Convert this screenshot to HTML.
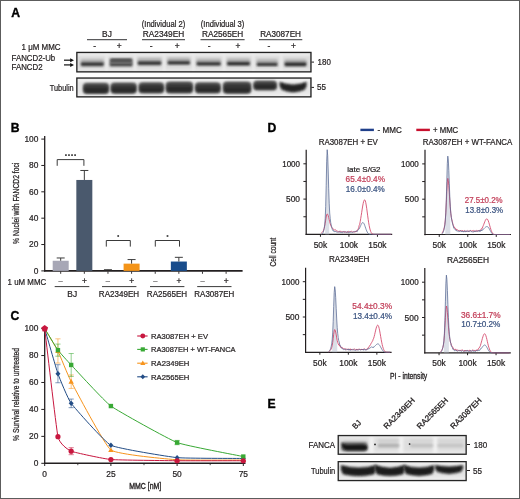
<!DOCTYPE html>
<html><head><meta charset="utf-8"><style>
html,body{margin:0;padding:0;background:#fff;width:520px;height:499px;overflow:hidden;}
svg{display:block;will-change:transform;}
text{font-family:"Liberation Sans",sans-serif;}
</style></head><body>
<svg width="520" height="499" viewBox="0 0 520 499">
<defs><linearGradient id="tubg" x1="0" y1="0" x2="0" y2="1"><stop offset="0" stop-color="#454545"/><stop offset="0.55" stop-color="#2c2c2c"/><stop offset="1" stop-color="#262626"/></linearGradient><filter id="b0_8" x="-50%" y="-50%" width="200%" height="200%"><feGaussianBlur stdDeviation="0.8"/></filter><filter id="b0_9" x="-50%" y="-50%" width="200%" height="200%"><feGaussianBlur stdDeviation="0.9"/></filter><filter id="b1_0" x="-50%" y="-50%" width="200%" height="200%"><feGaussianBlur stdDeviation="1.0"/></filter><filter id="b1_2" x="-50%" y="-50%" width="200%" height="200%"><feGaussianBlur stdDeviation="1.2"/></filter><filter id="b1_3" x="-50%" y="-50%" width="200%" height="200%"><feGaussianBlur stdDeviation="1.3"/></filter><filter id="b1_4" x="-50%" y="-50%" width="200%" height="200%"><feGaussianBlur stdDeviation="1.4"/></filter></defs>
<rect x="0.5" y="0.5" width="519" height="498" fill="#fff" stroke="#5c5c5c" stroke-width="1"/>
<text x="11.20" y="17.00" font-size="12.20" text-anchor="start" fill="#000" font-weight="bold" stroke="#000" stroke-width="0.35" >A</text>
<text x="10.70" y="131.90" font-size="12.20" text-anchor="start" fill="#000" font-weight="bold" stroke="#000" stroke-width="0.35" >B</text>
<text x="10.50" y="320.30" font-size="12.20" text-anchor="start" fill="#000" font-weight="bold" stroke="#000" stroke-width="0.35" >C</text>
<text x="267.60" y="131.80" font-size="12.20" text-anchor="start" fill="#000" font-weight="bold" stroke="#000" stroke-width="0.35" >D</text>
<text x="267.50" y="407.70" font-size="12.20" text-anchor="start" fill="#000" font-weight="bold" stroke="#000" stroke-width="0.35" >E</text>
<text x="107.00" y="36.60" font-size="8.40" text-anchor="middle" fill="#231f20" font-weight="normal" stroke="#231f20" stroke-width="0.22" >BJ</text>
<text x="163.50" y="26.80" font-size="8.40" text-anchor="middle" fill="#231f20" font-weight="normal" textLength="43.5" lengthAdjust="spacingAndGlyphs" stroke="#231f20" stroke-width="0.22" >(Individual 2)</text>
<text x="163.50" y="36.60" font-size="8.40" text-anchor="middle" fill="#231f20" font-weight="normal" textLength="41.5" lengthAdjust="spacingAndGlyphs" stroke="#231f20" stroke-width="0.22" >RA2349EH</text>
<text x="222.60" y="26.80" font-size="8.40" text-anchor="middle" fill="#231f20" font-weight="normal" textLength="43.5" lengthAdjust="spacingAndGlyphs" stroke="#231f20" stroke-width="0.22" >(Individual 3)</text>
<text x="222.60" y="36.60" font-size="8.40" text-anchor="middle" fill="#231f20" font-weight="normal" textLength="41.2" lengthAdjust="spacingAndGlyphs" stroke="#231f20" stroke-width="0.22" >RA2565EH</text>
<text x="280.60" y="36.60" font-size="8.40" text-anchor="middle" fill="#231f20" font-weight="normal" textLength="40.8" lengthAdjust="spacingAndGlyphs" stroke="#231f20" stroke-width="0.22" >RA3087EH</text>
<line x1="87.00" y1="39.60" x2="127.00" y2="39.60" stroke="#5a5a5c" stroke-width="1.30" />
<line x1="142.00" y1="39.60" x2="185.00" y2="39.60" stroke="#5a5a5c" stroke-width="1.30" />
<line x1="200.50" y1="39.60" x2="244.60" y2="39.60" stroke="#5a5a5c" stroke-width="1.30" />
<line x1="259.00" y1="39.60" x2="302.30" y2="39.60" stroke="#5a5a5c" stroke-width="1.30" />
<text x="94.60" y="49.00" font-size="8.50" text-anchor="middle" fill="#231f20" font-weight="normal" stroke="#231f20" stroke-width="0.22" >-</text>
<text x="151.20" y="49.00" font-size="8.50" text-anchor="middle" fill="#231f20" font-weight="normal" stroke="#231f20" stroke-width="0.22" >-</text>
<text x="209.20" y="49.00" font-size="8.50" text-anchor="middle" fill="#231f20" font-weight="normal" stroke="#231f20" stroke-width="0.22" >-</text>
<text x="268.80" y="49.00" font-size="8.50" text-anchor="middle" fill="#231f20" font-weight="normal" stroke="#231f20" stroke-width="0.22" >-</text>
<text x="119.20" y="49.00" font-size="8.40" text-anchor="middle" fill="#231f20" font-weight="normal" stroke="#231f20" stroke-width="0.22" >+</text>
<text x="177.20" y="49.00" font-size="8.40" text-anchor="middle" fill="#231f20" font-weight="normal" stroke="#231f20" stroke-width="0.22" >+</text>
<text x="238.00" y="49.00" font-size="8.40" text-anchor="middle" fill="#231f20" font-weight="normal" stroke="#231f20" stroke-width="0.22" >+</text>
<text x="293.40" y="49.00" font-size="8.40" text-anchor="middle" fill="#231f20" font-weight="normal" stroke="#231f20" stroke-width="0.22" >+</text>
<text x="60.60" y="49.90" font-size="8.40" text-anchor="end" fill="#231f20" font-weight="normal" textLength="39.0" lengthAdjust="spacingAndGlyphs" stroke="#231f20" stroke-width="0.22" >1 μM MMC</text>
<text x="11.60" y="60.70" font-size="8.40" text-anchor="start" fill="#231f20" font-weight="normal" textLength="43.6" lengthAdjust="spacingAndGlyphs" stroke="#231f20" stroke-width="0.22" >FANCD2-Ub</text>
<text x="11.60" y="70.10" font-size="8.40" text-anchor="start" fill="#231f20" font-weight="normal" textLength="31.0" lengthAdjust="spacingAndGlyphs" stroke="#231f20" stroke-width="0.22" >FANCD2</text>
<text x="73.60" y="90.80" font-size="8.60" text-anchor="end" fill="#231f20" font-weight="normal" textLength="23.8" lengthAdjust="spacingAndGlyphs" stroke="#231f20" stroke-width="0.22" >Tubulin</text>
<line x1="64.00" y1="60.20" x2="71.00" y2="60.20" stroke="#222" stroke-width="1.30" />
<path d="M74,60.20 L70.2,58.20 L70.2,62.20 Z" fill="#111"/>
<line x1="64.00" y1="64.90" x2="71.00" y2="64.90" stroke="#222" stroke-width="1.30" />
<path d="M74,64.90 L70.2,62.90 L70.2,66.90 Z" fill="#111"/>
<rect x="76.20" y="51.80" width="235.40" height="20.60" fill="#dcdcdc" />
<rect x="77.70" y="53.00" width="232.40" height="3.00" fill="#ececec" filter="url(#b1_0)"/>
<rect x="77.70" y="68.80" width="232.40" height="2.40" fill="#e8e8e8" filter="url(#b0_9)"/>
<rect x="105.40" y="53.00" width="2.60" height="18.00" fill="#ececec" filter="url(#b0_9)"/>
<rect x="133.70" y="53.00" width="2.60" height="18.00" fill="#ececec" filter="url(#b0_9)"/>
<rect x="162.90" y="53.00" width="2.60" height="18.00" fill="#ececec" filter="url(#b0_9)"/>
<rect x="192.10" y="53.00" width="2.60" height="18.00" fill="#ececec" filter="url(#b0_9)"/>
<rect x="222.70" y="53.00" width="2.60" height="18.00" fill="#ececec" filter="url(#b0_9)"/>
<rect x="252.10" y="53.00" width="2.60" height="18.00" fill="#ececec" filter="url(#b0_9)"/>
<rect x="279.90" y="53.00" width="2.60" height="18.00" fill="#ececec" filter="url(#b0_9)"/>
<rect x="80.60" y="59.20" width="23.40" height="7.50" rx="2" fill="#b0b0b0" filter="url(#b1_2)"/>
<rect x="81.00" y="62.58" width="22.60" height="3.24" rx="1.2" fill="#2c2c2c" filter="url(#b0_8)"/>
<rect x="109.60" y="59.60" width="23.00" height="7.50" rx="2" fill="#b0b0b0" filter="url(#b1_2)"/>
<rect x="110.00" y="63.34" width="22.20" height="2.52" rx="1.2" fill="#2c2c2c" filter="url(#b0_8)"/>
<rect x="110.00" y="59.00" width="22.20" height="5.00" rx="1.5" fill="#626262" filter="url(#b0_9)"/>
<rect x="110.00" y="58.80" width="22.20" height="2.00" rx="1.5" fill="#3a3a3a" opacity="0.85" filter="url(#b0_9)"/>
<rect x="137.50" y="58.10" width="24.00" height="7.50" rx="2" fill="#b0b0b0" filter="url(#b1_2)"/>
<rect x="137.90" y="61.57" width="23.20" height="3.06" rx="1.2" fill="#2c2c2c" filter="url(#b0_8)"/>
<rect x="167.40" y="57.80" width="22.80" height="7.50" rx="2" fill="#b0b0b0" filter="url(#b1_2)"/>
<rect x="167.80" y="61.27" width="22.00" height="3.06" rx="1.2" fill="#2c2c2c" filter="url(#b0_8)"/>
<rect x="196.30" y="58.80" width="24.70" height="7.50" rx="2" fill="#b0b0b0" filter="url(#b1_2)"/>
<rect x="196.70" y="62.36" width="23.90" height="2.88" rx="1.2" fill="#2c2c2c" filter="url(#b0_8)"/>
<rect x="226.80" y="58.60" width="23.40" height="7.50" rx="2" fill="#b0b0b0" filter="url(#b1_2)"/>
<rect x="227.20" y="61.98" width="22.60" height="3.24" rx="1.2" fill="#2c2c2c" filter="url(#b0_8)"/>
<rect x="256.50" y="59.30" width="21.30" height="7.50" rx="2" fill="#b0b0b0" filter="url(#b1_2)"/>
<rect x="256.90" y="62.95" width="20.50" height="2.70" rx="1.2" fill="#2c2c2c" filter="url(#b0_8)"/>
<rect x="284.30" y="59.30" width="22.40" height="7.50" rx="2" fill="#b0b0b0" filter="url(#b1_2)"/>
<rect x="284.70" y="62.59" width="21.60" height="3.42" rx="1.2" fill="#2c2c2c" filter="url(#b0_8)"/>
<rect x="76.85" y="52.45" width="234.10" height="19.4" fill="none" stroke="#222" stroke-width="1.3"/>
<rect x="76.20" y="77.40" width="235.40" height="20.10" fill="#e6e6e6" />
<rect x="77.70" y="78.80" width="232.40" height="3.00" fill="#f2f2f2" filter="url(#b1_0)"/>
<rect x="77.70" y="94.00" width="232.40" height="2.50" fill="#f0f0f0" filter="url(#b1_0)"/>
<rect x="82.90" y="82.80" width="26.20" height="11.20" rx="4" ry="3.5" fill="#666" filter="url(#b1_2)"/>
<rect x="83.70" y="84.30" width="24.60" height="8.60" rx="4" ry="3.5" fill="url(#tubg)" filter="url(#b1_0)"/>
<rect x="110.50" y="82.40" width="26.30" height="11.40" rx="4" ry="3.5" fill="#666" filter="url(#b1_2)"/>
<rect x="111.30" y="83.90" width="24.70" height="8.80" rx="4" ry="3.5" fill="url(#tubg)" filter="url(#b1_0)"/>
<rect x="138.50" y="82.20" width="25.70" height="11.20" rx="4" ry="3.5" fill="#666" filter="url(#b1_2)"/>
<rect x="139.30" y="83.70" width="24.10" height="8.60" rx="4" ry="3.5" fill="url(#tubg)" filter="url(#b1_0)"/>
<rect x="165.70" y="81.60" width="27.40" height="11.80" rx="4" ry="3.5" fill="#666" filter="url(#b1_2)"/>
<rect x="166.50" y="83.10" width="25.80" height="9.20" rx="4" ry="3.5" fill="url(#tubg)" filter="url(#b1_0)"/>
<rect x="194.90" y="82.20" width="25.90" height="11.20" rx="4" ry="3.5" fill="#666" filter="url(#b1_2)"/>
<rect x="195.70" y="83.70" width="24.30" height="8.60" rx="4" ry="3.5" fill="url(#tubg)" filter="url(#b1_0)"/>
<rect x="222.90" y="81.60" width="28.40" height="12.20" rx="4" ry="3.5" fill="#666" filter="url(#b1_2)"/>
<rect x="223.70" y="83.10" width="26.80" height="9.60" rx="4" ry="3.5" fill="url(#tubg)" filter="url(#b1_0)"/>
<rect x="253.20" y="80.40" width="23.80" height="10.00" rx="4" ry="3.5" fill="#666" filter="url(#b1_2)"/>
<rect x="254.00" y="81.90" width="22.20" height="7.40" rx="4" ry="3.5" fill="url(#tubg)" filter="url(#b1_0)"/>
<path d="M279.40,81.40 Q293.10,86.60 306.80,81.40 Q308.00,85.80 304.80,90.20 Q293.10,95.40 281.40,90.20 Q278.20,85.80 279.40,81.40 Z" fill="#777" filter="url(#b1_2)" opacity="0.6"/>
<path d="M280.20,82.20 Q293.10,87.80 306.00,82.20 Q307.20,85.90 304.00,89.60 Q293.10,94.40 282.20,89.60 Q279.00,85.90 280.20,82.20 Z" fill="#222" filter="url(#b0_9)" />
<rect x="76.85" y="78.05" width="234.10" height="18.8" fill="none" stroke="#1e1e1e" stroke-width="1.3"/>
<line x1="311.40" y1="62.10" x2="314.00" y2="62.10" stroke="#231f20" stroke-width="1.00" />
<line x1="311.40" y1="87.40" x2="314.00" y2="87.40" stroke="#231f20" stroke-width="1.00" />
<text x="317.60" y="64.60" font-size="8.40" text-anchor="start" fill="#231f20" font-weight="normal" textLength="13.3" lengthAdjust="spacingAndGlyphs" stroke="#231f20" stroke-width="0.22" >180</text>
<text x="317.00" y="89.80" font-size="8.40" text-anchor="start" fill="#231f20" font-weight="normal" textLength="9.0" lengthAdjust="spacingAndGlyphs" stroke="#231f20" stroke-width="0.22" >55</text>
<line x1="44.70" y1="136.00" x2="44.70" y2="271.60" stroke="#231f20" stroke-width="1.30" />
<line x1="41.30" y1="270.90" x2="44.70" y2="270.90" stroke="#231f20" stroke-width="1.00" />
<text x="38.40" y="273.70" font-size="8.40" text-anchor="end" fill="#231f20" font-weight="normal" stroke="#231f20" stroke-width="0.22" >0</text>
<line x1="41.30" y1="244.54" x2="44.70" y2="244.54" stroke="#231f20" stroke-width="1.00" />
<text x="38.40" y="247.34" font-size="8.40" text-anchor="end" fill="#231f20" font-weight="normal" stroke="#231f20" stroke-width="0.22" >20</text>
<line x1="41.30" y1="218.18" x2="44.70" y2="218.18" stroke="#231f20" stroke-width="1.00" />
<text x="38.40" y="220.98" font-size="8.40" text-anchor="end" fill="#231f20" font-weight="normal" stroke="#231f20" stroke-width="0.22" >40</text>
<line x1="41.30" y1="191.82" x2="44.70" y2="191.82" stroke="#231f20" stroke-width="1.00" />
<text x="38.40" y="194.62" font-size="8.40" text-anchor="end" fill="#231f20" font-weight="normal" stroke="#231f20" stroke-width="0.22" >60</text>
<line x1="41.30" y1="165.46" x2="44.70" y2="165.46" stroke="#231f20" stroke-width="1.00" />
<text x="38.40" y="168.26" font-size="8.40" text-anchor="end" fill="#231f20" font-weight="normal" stroke="#231f20" stroke-width="0.22" >80</text>
<line x1="41.30" y1="139.10" x2="44.70" y2="139.10" stroke="#231f20" stroke-width="1.00" />
<text x="38.40" y="141.90" font-size="8.40" text-anchor="end" fill="#231f20" font-weight="normal" stroke="#231f20" stroke-width="0.22" >100</text>
<line x1="44.10" y1="270.90" x2="242.60" y2="270.90" stroke="#231f20" stroke-width="1.60" />
<line x1="60.70" y1="271.50" x2="60.70" y2="273.80" stroke="#231f20" stroke-width="0.90" />
<line x1="84.33" y1="271.50" x2="84.33" y2="273.80" stroke="#231f20" stroke-width="0.90" />
<line x1="107.96" y1="271.50" x2="107.96" y2="273.80" stroke="#231f20" stroke-width="0.90" />
<line x1="131.59" y1="271.50" x2="131.59" y2="273.80" stroke="#231f20" stroke-width="0.90" />
<line x1="155.22" y1="271.50" x2="155.22" y2="273.80" stroke="#231f20" stroke-width="0.90" />
<line x1="178.85" y1="271.50" x2="178.85" y2="273.80" stroke="#231f20" stroke-width="0.90" />
<line x1="202.48" y1="271.50" x2="202.48" y2="273.80" stroke="#231f20" stroke-width="0.90" />
<line x1="226.11" y1="271.50" x2="226.11" y2="273.80" stroke="#231f20" stroke-width="0.90" />
<rect x="52.70" y="260.75" width="16.00" height="10.15" fill="#a7a7b6" />
<line x1="60.70" y1="257.98" x2="60.70" y2="260.75" stroke="#3c3c3c" stroke-width="1.00" />
<line x1="56.70" y1="257.98" x2="64.70" y2="257.98" stroke="#3c3c3c" stroke-width="1.00" />
<rect x="76.33" y="179.96" width="16.00" height="90.94" fill="#4a596d" />
<line x1="84.33" y1="170.47" x2="84.33" y2="179.96" stroke="#3c3c3c" stroke-width="1.00" />
<line x1="80.33" y1="170.47" x2="88.33" y2="170.47" stroke="#3c3c3c" stroke-width="1.00" />
<line x1="107.96" y1="269.71" x2="107.96" y2="270.11" stroke="#3c3c3c" stroke-width="1.00" />
<line x1="103.96" y1="269.71" x2="111.96" y2="269.71" stroke="#3c3c3c" stroke-width="1.00" />
<rect x="123.59" y="263.65" width="16.00" height="7.25" fill="#f49419" />
<line x1="131.59" y1="259.57" x2="131.59" y2="263.65" stroke="#3c3c3c" stroke-width="1.00" />
<line x1="127.59" y1="259.57" x2="135.59" y2="259.57" stroke="#3c3c3c" stroke-width="1.00" />
<rect x="170.85" y="261.54" width="16.00" height="9.36" fill="#194c8b" />
<line x1="178.85" y1="257.32" x2="178.85" y2="261.54" stroke="#3c3c3c" stroke-width="1.00" />
<line x1="174.85" y1="257.32" x2="182.85" y2="257.32" stroke="#3c3c3c" stroke-width="1.00" />
<path d="M57.20,165.80 V159.60 H83.90 V165.80" fill="none" stroke="#3a3a3a" stroke-width="1"/>
<rect x="65.08" y="154.30" width="1.7" height="1.6" fill="#2a2a2a"/>
<rect x="68.12" y="154.30" width="1.7" height="1.6" fill="#2a2a2a"/>
<rect x="71.18" y="154.30" width="1.7" height="1.6" fill="#2a2a2a"/>
<rect x="74.23" y="154.30" width="1.7" height="1.6" fill="#2a2a2a"/>
<path d="M106.30,246.60 V240.50 H130.30 V246.60" fill="none" stroke="#3a3a3a" stroke-width="1"/>
<rect x="117.35" y="235.20" width="1.7" height="1.6" fill="#2a2a2a"/>
<path d="M155.30,246.60 V240.50 H179.50 V246.60" fill="none" stroke="#3a3a3a" stroke-width="1"/>
<rect x="166.65" y="235.20" width="1.7" height="1.6" fill="#2a2a2a"/>
<text x="60.70" y="283.40" font-size="7.50" text-anchor="middle" fill="#231f20" font-weight="normal" stroke="#231f20" stroke-width="0.22" >–</text>
<text x="84.33" y="283.60" font-size="8.40" text-anchor="middle" fill="#231f20" font-weight="normal" stroke="#231f20" stroke-width="0.22" >+</text>
<text x="107.96" y="283.40" font-size="7.50" text-anchor="middle" fill="#231f20" font-weight="normal" stroke="#231f20" stroke-width="0.22" >–</text>
<text x="131.59" y="283.60" font-size="8.40" text-anchor="middle" fill="#231f20" font-weight="normal" stroke="#231f20" stroke-width="0.22" >+</text>
<text x="155.22" y="283.40" font-size="7.50" text-anchor="middle" fill="#231f20" font-weight="normal" stroke="#231f20" stroke-width="0.22" >–</text>
<text x="178.85" y="283.60" font-size="8.40" text-anchor="middle" fill="#231f20" font-weight="normal" stroke="#231f20" stroke-width="0.22" >+</text>
<text x="202.48" y="283.40" font-size="7.50" text-anchor="middle" fill="#231f20" font-weight="normal" stroke="#231f20" stroke-width="0.22" >–</text>
<text x="226.11" y="283.60" font-size="8.40" text-anchor="middle" fill="#231f20" font-weight="normal" stroke="#231f20" stroke-width="0.22" >+</text>
<text x="46.20" y="284.70" font-size="8.40" text-anchor="end" fill="#231f20" font-weight="normal" textLength="38.6" lengthAdjust="spacingAndGlyphs" stroke="#231f20" stroke-width="0.22" >1 uM MMC</text>
<line x1="54.70" y1="286.60" x2="89.30" y2="286.60" stroke="#3a3a3a" stroke-width="1.00" />
<line x1="102.00" y1="286.60" x2="136.40" y2="286.60" stroke="#3a3a3a" stroke-width="1.00" />
<line x1="150.00" y1="286.60" x2="184.40" y2="286.60" stroke="#3a3a3a" stroke-width="1.00" />
<line x1="197.20" y1="286.60" x2="231.50" y2="286.60" stroke="#3a3a3a" stroke-width="1.00" />
<text x="72.20" y="296.60" font-size="8.40" text-anchor="middle" fill="#231f20" font-weight="normal" stroke="#231f20" stroke-width="0.22" >BJ</text>
<text x="119.00" y="296.80" font-size="8.40" text-anchor="middle" fill="#231f20" font-weight="normal" textLength="40.3" lengthAdjust="spacingAndGlyphs" stroke="#231f20" stroke-width="0.22" >RA2349EH</text>
<text x="167.00" y="296.80" font-size="8.40" text-anchor="middle" fill="#231f20" font-weight="normal" textLength="40.3" lengthAdjust="spacingAndGlyphs" stroke="#231f20" stroke-width="0.22" >RA2565EH</text>
<text x="214.30" y="296.60" font-size="8.40" text-anchor="middle" fill="#231f20" font-weight="normal" textLength="40.0" lengthAdjust="spacingAndGlyphs" stroke="#231f20" stroke-width="0.22" >RA3087EH</text>
<text transform="translate(19.3,203.3) rotate(-90)" font-size="9.0" text-anchor="middle" fill="#231f20" stroke="#231f20" stroke-width="0.25" textLength="81.2" lengthAdjust="spacingAndGlyphs">% Nuclei with FANCD2 foci</text>
<line x1="44.70" y1="327.50" x2="44.70" y2="464.00" stroke="#231f20" stroke-width="1.30" />
<line x1="41.30" y1="463.30" x2="44.70" y2="463.30" stroke="#231f20" stroke-width="1.00" />
<text x="38.40" y="466.10" font-size="8.40" text-anchor="end" fill="#231f20" font-weight="normal" stroke="#231f20" stroke-width="0.22" >0</text>
<line x1="41.30" y1="436.36" x2="44.70" y2="436.36" stroke="#231f20" stroke-width="1.00" />
<text x="38.40" y="439.16" font-size="8.40" text-anchor="end" fill="#231f20" font-weight="normal" stroke="#231f20" stroke-width="0.22" >20</text>
<line x1="41.30" y1="409.42" x2="44.70" y2="409.42" stroke="#231f20" stroke-width="1.00" />
<text x="38.40" y="412.22" font-size="8.40" text-anchor="end" fill="#231f20" font-weight="normal" stroke="#231f20" stroke-width="0.22" >40</text>
<line x1="41.30" y1="382.48" x2="44.70" y2="382.48" stroke="#231f20" stroke-width="1.00" />
<text x="38.40" y="385.28" font-size="8.40" text-anchor="end" fill="#231f20" font-weight="normal" stroke="#231f20" stroke-width="0.22" >60</text>
<line x1="41.30" y1="355.54" x2="44.70" y2="355.54" stroke="#231f20" stroke-width="1.00" />
<text x="38.40" y="358.34" font-size="8.40" text-anchor="end" fill="#231f20" font-weight="normal" stroke="#231f20" stroke-width="0.22" >80</text>
<line x1="41.30" y1="328.60" x2="44.70" y2="328.60" stroke="#231f20" stroke-width="1.00" />
<text x="38.40" y="331.40" font-size="8.40" text-anchor="end" fill="#231f20" font-weight="normal" stroke="#231f20" stroke-width="0.22" >100</text>
<line x1="44.10" y1="463.30" x2="245.50" y2="463.30" stroke="#231f20" stroke-width="1.60" />
<line x1="44.70" y1="463.30" x2="44.70" y2="466.00" stroke="#231f20" stroke-width="1.00" />
<text x="44.70" y="476.60" font-size="8.40" text-anchor="middle" fill="#231f20" font-weight="normal" stroke="#231f20" stroke-width="0.22" >0</text>
<line x1="110.90" y1="463.30" x2="110.90" y2="466.00" stroke="#231f20" stroke-width="1.00" />
<text x="110.90" y="476.60" font-size="8.40" text-anchor="middle" fill="#231f20" font-weight="normal" stroke="#231f20" stroke-width="0.22" >25</text>
<line x1="177.10" y1="463.30" x2="177.10" y2="466.00" stroke="#231f20" stroke-width="1.00" />
<text x="177.10" y="476.60" font-size="8.40" text-anchor="middle" fill="#231f20" font-weight="normal" stroke="#231f20" stroke-width="0.22" >50</text>
<line x1="243.30" y1="463.30" x2="243.30" y2="466.00" stroke="#231f20" stroke-width="1.00" />
<text x="243.30" y="476.60" font-size="8.40" text-anchor="middle" fill="#231f20" font-weight="normal" stroke="#231f20" stroke-width="0.22" >75</text>
<line x1="77.80" y1="463.30" x2="77.80" y2="465.20" stroke="#231f20" stroke-width="0.80" />
<line x1="144.00" y1="463.30" x2="144.00" y2="465.20" stroke="#231f20" stroke-width="0.80" />
<line x1="210.20" y1="463.30" x2="210.20" y2="465.20" stroke="#231f20" stroke-width="0.80" />
<text x="145.3" y="489.4" font-size="9.4" text-anchor="middle" fill="#231f20" stroke="#231f20" stroke-width="0.4" textLength="32.0" lengthAdjust="spacingAndGlyphs">MMC [nM]</text>
<text transform="translate(19.3,394.4) rotate(-90)" font-size="9.0" text-anchor="middle" fill="#231f20" stroke="#231f20" stroke-width="0.25" textLength="93.0" lengthAdjust="spacingAndGlyphs">% Survival relative to untreated</text>
<path d="M44.70,328.60 C45.49,329.94 56.35,347.78 57.94,350.96 C59.53,354.14 68.00,375.73 71.18,381.67 C74.36,387.61 104.54,445.28 110.90,449.96 C117.26,454.65 169.16,459.19 177.10,459.80 C185.04,460.40 239.33,460.05 243.30,460.07" fill="none" stroke="#f7941d" stroke-width="1.0"/>
<path d="M44.70,328.60 C45.49,331.31 56.35,369.24 57.94,373.72 C59.53,378.21 68.00,399.07 71.18,403.36 C74.36,407.65 104.54,441.99 110.90,445.25 C117.26,448.51 169.16,456.85 177.10,457.64 C185.04,458.43 239.33,458.40 243.30,458.45" fill="none" stroke="#234d86" stroke-width="1.0"/>
<path d="M44.70,328.60 C45.49,329.89 56.35,347.97 57.94,350.15 C59.53,352.33 68.00,361.61 71.18,364.97 C74.36,368.32 104.54,401.40 110.90,406.05 C117.26,410.71 169.16,439.53 177.10,442.56 C185.04,445.59 239.33,455.72 243.30,456.56" fill="none" stroke="#39a935" stroke-width="1.0"/>
<path d="M44.70,328.60 C45.49,335.08 56.35,429.27 57.94,436.63 C59.53,443.98 68.00,449.80 71.18,451.18 C74.36,452.55 104.54,458.95 110.90,459.53 C117.26,460.10 169.16,460.67 177.10,460.74 C185.04,460.81 239.33,460.74 243.30,460.74" fill="none" stroke="#c8173f" stroke-width="1.0"/>
<line x1="57.94" y1="338.84" x2="57.94" y2="363.08" stroke="#f7941d" stroke-width="1.00" opacity="0.55"/>
<line x1="55.34" y1="338.84" x2="60.54" y2="338.84" stroke="#f7941d" stroke-width="1.00" opacity="0.55"/>
<line x1="55.34" y1="363.08" x2="60.54" y2="363.08" stroke="#f7941d" stroke-width="1.00" opacity="0.55"/>
<line x1="71.18" y1="374.94" x2="71.18" y2="388.41" stroke="#f7941d" stroke-width="1.00" opacity="0.55"/>
<line x1="68.58" y1="374.94" x2="73.78" y2="374.94" stroke="#f7941d" stroke-width="1.00" opacity="0.55"/>
<line x1="68.58" y1="388.41" x2="73.78" y2="388.41" stroke="#f7941d" stroke-width="1.00" opacity="0.55"/>
<line x1="57.94" y1="364.70" x2="57.94" y2="382.75" stroke="#234d86" stroke-width="1.00" opacity="0.55"/>
<line x1="55.34" y1="364.70" x2="60.54" y2="364.70" stroke="#234d86" stroke-width="1.00" opacity="0.55"/>
<line x1="55.34" y1="382.75" x2="60.54" y2="382.75" stroke="#234d86" stroke-width="1.00" opacity="0.55"/>
<line x1="71.18" y1="399.05" x2="71.18" y2="407.67" stroke="#234d86" stroke-width="1.00" opacity="0.55"/>
<line x1="68.58" y1="399.05" x2="73.78" y2="399.05" stroke="#234d86" stroke-width="1.00" opacity="0.55"/>
<line x1="68.58" y1="407.67" x2="73.78" y2="407.67" stroke="#234d86" stroke-width="1.00" opacity="0.55"/>
<line x1="57.94" y1="344.09" x2="57.94" y2="356.21" stroke="#39a935" stroke-width="1.00" opacity="0.55"/>
<line x1="55.34" y1="344.09" x2="60.54" y2="344.09" stroke="#39a935" stroke-width="1.00" opacity="0.55"/>
<line x1="55.34" y1="356.21" x2="60.54" y2="356.21" stroke="#39a935" stroke-width="1.00" opacity="0.55"/>
<line x1="71.18" y1="353.52" x2="71.18" y2="376.42" stroke="#39a935" stroke-width="1.00" opacity="0.55"/>
<line x1="68.58" y1="353.52" x2="73.78" y2="353.52" stroke="#39a935" stroke-width="1.00" opacity="0.55"/>
<line x1="68.58" y1="376.42" x2="73.78" y2="376.42" stroke="#39a935" stroke-width="1.00" opacity="0.55"/>
<line x1="177.10" y1="440.40" x2="177.10" y2="444.71" stroke="#39a935" stroke-width="1.00" opacity="0.55"/>
<line x1="174.50" y1="440.40" x2="179.70" y2="440.40" stroke="#39a935" stroke-width="1.00" opacity="0.55"/>
<line x1="174.50" y1="444.71" x2="179.70" y2="444.71" stroke="#39a935" stroke-width="1.00" opacity="0.55"/>
<line x1="71.18" y1="447.67" x2="71.18" y2="454.68" stroke="#c8173f" stroke-width="1.00" opacity="0.55"/>
<line x1="68.58" y1="447.67" x2="73.78" y2="447.67" stroke="#c8173f" stroke-width="1.00" opacity="0.55"/>
<line x1="68.58" y1="454.68" x2="73.78" y2="454.68" stroke="#c8173f" stroke-width="1.00" opacity="0.55"/>
<path d="M57.94,348.16 L60.64,352.96 L55.24,352.96 Z" fill="#f7941d"/>
<path d="M71.18,378.87 L73.88,383.67 L68.48,383.67 Z" fill="#f7941d"/>
<path d="M110.90,447.16 L113.60,451.96 L108.20,451.96 Z" fill="#f7941d"/>
<path d="M177.10,457.00 L179.80,461.80 L174.40,461.80 Z" fill="#f7941d"/>
<path d="M243.30,457.27 L246.00,462.07 L240.60,462.07 Z" fill="#f7941d"/>
<path d="M57.94,371.02 L60.44,373.72 L57.94,376.42 L55.44,373.72 Z" fill="#234d86"/>
<path d="M71.18,400.66 L73.68,403.36 L71.18,406.06 L68.68,403.36 Z" fill="#234d86"/>
<path d="M110.90,442.55 L113.40,445.25 L110.90,447.95 L108.40,445.25 Z" fill="#234d86"/>
<path d="M177.10,454.94 L179.60,457.64 L177.10,460.34 L174.60,457.64 Z" fill="#234d86"/>
<path d="M243.30,455.75 L245.80,458.45 L243.30,461.15 L240.80,458.45 Z" fill="#234d86"/>
<rect x="55.74" y="347.95" width="4.40" height="4.40" fill="#39a935"/>
<rect x="68.98" y="362.77" width="4.40" height="4.40" fill="#39a935"/>
<rect x="108.70" y="403.85" width="4.40" height="4.40" fill="#39a935"/>
<rect x="174.90" y="440.36" width="4.40" height="4.40" fill="#39a935"/>
<rect x="241.10" y="454.37" width="4.40" height="4.40" fill="#39a935"/>
<path d="M44.70,325.00 L48.10,327.60 L46.80,331.60 L42.60,331.60 L41.30,327.60 Z" fill="#c8173f"/>
<circle cx="57.94" cy="436.63" r="2.60" fill="#c8173f"/>
<circle cx="71.18" cy="451.18" r="2.60" fill="#c8173f"/>
<circle cx="110.90" cy="459.53" r="2.60" fill="#c8173f"/>
<circle cx="177.10" cy="460.74" r="2.60" fill="#c8173f"/>
<circle cx="243.30" cy="460.74" r="2.60" fill="#c8173f"/>
<line x1="137.20" y1="336.00" x2="147.60" y2="336.00" stroke="#c8173f" stroke-width="1.10" />
<circle cx="142.80" cy="336.00" r="2.47" fill="#c8173f"/>
<text x="151.00" y="338.70" font-size="7.80" text-anchor="start" fill="#231f20" font-weight="normal" textLength="57.0" lengthAdjust="spacingAndGlyphs" stroke="#231f20" stroke-width="0.22" >RA3087EH + EV</text>
<line x1="137.20" y1="349.40" x2="147.60" y2="349.40" stroke="#39a935" stroke-width="1.10" />
<rect x="140.71" y="347.31" width="4.18" height="4.18" fill="#39a935"/>
<text x="151.00" y="352.10" font-size="7.80" text-anchor="start" fill="#231f20" font-weight="normal" textLength="84.6" lengthAdjust="spacingAndGlyphs" stroke="#231f20" stroke-width="0.22" >RA3087EH + WT-FANCA</text>
<line x1="137.20" y1="363.20" x2="147.60" y2="363.20" stroke="#f7941d" stroke-width="1.10" />
<path d="M142.80,360.54 L145.37,365.10 L140.24,365.10 Z" fill="#f7941d"/>
<text x="151.00" y="365.90" font-size="7.80" text-anchor="start" fill="#231f20" font-weight="normal" textLength="38.4" lengthAdjust="spacingAndGlyphs" stroke="#231f20" stroke-width="0.22" >RA2349EH</text>
<line x1="137.20" y1="376.80" x2="147.60" y2="376.80" stroke="#234d86" stroke-width="1.10" />
<path d="M142.80,374.24 L145.18,376.80 L142.80,379.37 L140.43,376.80 Z" fill="#234d86"/>
<text x="151.00" y="379.50" font-size="7.80" text-anchor="start" fill="#231f20" font-weight="normal" textLength="38.4" lengthAdjust="spacingAndGlyphs" stroke="#231f20" stroke-width="0.22" >RA2565EH</text>
<line x1="360.40" y1="129.90" x2="373.90" y2="129.90" stroke="#1f3f8a" stroke-width="2.40" />
<text x="377.60" y="132.60" font-size="8.40" text-anchor="start" fill="#231f20" font-weight="normal" textLength="24.2" lengthAdjust="spacingAndGlyphs" stroke="#231f20" stroke-width="0.22" >- MMC</text>
<line x1="416.30" y1="129.90" x2="429.90" y2="129.90" stroke="#c8102e" stroke-width="2.40" />
<text x="433.00" y="132.60" font-size="8.40" text-anchor="start" fill="#231f20" font-weight="normal" textLength="25.2" lengthAdjust="spacingAndGlyphs" stroke="#231f20" stroke-width="0.22" >+ MMC</text>
<line x1="306.20" y1="149.70" x2="306.20" y2="235.10" stroke="#231f20" stroke-width="1.20" />
<line x1="305.60" y1="234.40" x2="392.20" y2="234.40" stroke="#231f20" stroke-width="1.20" />
<line x1="303.40" y1="216.75" x2="306.20" y2="216.75" stroke="#231f20" stroke-width="1.00" />
<line x1="303.40" y1="199.10" x2="306.20" y2="199.10" stroke="#231f20" stroke-width="1.00" />
<text x="300.00" y="202.30" font-size="8.40" text-anchor="end" fill="#231f20" font-weight="normal" stroke="#231f20" stroke-width="0.22" >500</text>
<line x1="303.40" y1="181.45" x2="306.20" y2="181.45" stroke="#231f20" stroke-width="1.00" />
<line x1="303.40" y1="163.80" x2="306.20" y2="163.80" stroke="#231f20" stroke-width="1.00" />
<text x="300.00" y="167.00" font-size="8.40" text-anchor="end" fill="#231f20" font-weight="normal" textLength="17.8" lengthAdjust="spacingAndGlyphs" stroke="#231f20" stroke-width="0.22" >1000</text>
<line x1="320.45" y1="234.40" x2="320.45" y2="236.80" stroke="#231f20" stroke-width="1.00" />
<text x="320.45" y="248.00" font-size="8.40" text-anchor="middle" fill="#231f20" font-weight="normal" stroke="#231f20" stroke-width="0.22" >50k</text>
<line x1="348.95" y1="234.40" x2="348.95" y2="236.80" stroke="#231f20" stroke-width="1.00" />
<text x="348.95" y="248.00" font-size="8.40" text-anchor="middle" fill="#231f20" font-weight="normal" stroke="#231f20" stroke-width="0.22" >100k</text>
<line x1="377.45" y1="234.40" x2="377.45" y2="236.80" stroke="#231f20" stroke-width="1.00" />
<text x="377.45" y="248.00" font-size="8.40" text-anchor="middle" fill="#231f20" font-weight="normal" stroke="#231f20" stroke-width="0.22" >150k</text>
<text x="348.30" y="144.50" font-size="8.40" text-anchor="middle" fill="#231f20" font-weight="normal" textLength="59.2" lengthAdjust="spacingAndGlyphs" stroke="#231f20" stroke-width="0.22" >RA3087EH + EV</text>
<polygon points="325.20,234.40 325.20,218.72 325.70,206.74 326.20,185.72 326.70,161.21 327.20,149.68 327.70,155.75 328.20,171.03 328.70,188.78 329.20,203.19 329.20,234.40" fill="#b8c0d0" fill-opacity="0.5"/>
<polyline points="321.20,233.16 321.70,232.80 322.20,232.36 322.70,231.79 323.20,231.02 323.70,229.93 324.20,228.34 324.70,226.13 325.20,223.30 325.70,220.08 326.20,217.00 326.70,214.75 327.20,213.93 327.70,214.35 328.20,215.55 328.70,217.37 329.20,219.57 329.70,221.82 330.20,223.76 330.70,225.29 331.20,226.42 331.70,227.20 332.20,228.08 332.70,228.66 333.20,228.69 333.70,229.48 334.20,230.03 334.70,229.97 335.20,229.62 335.70,230.05 336.20,230.33 336.70,231.23 337.20,231.00 337.70,231.48 338.20,231.75 338.70,231.94 339.20,231.89 339.70,231.06 340.20,231.25 340.70,231.33 341.20,231.38 341.70,232.19 342.20,232.07 342.70,231.69 343.20,231.58 343.70,231.44 344.20,231.42 344.70,232.44 345.20,231.78 345.70,231.71 346.20,231.92 346.70,232.34 347.20,231.97 347.70,232.45 348.20,231.38 348.70,231.46 349.20,231.86 349.70,232.17 350.20,231.39 350.70,231.80 351.20,231.40 351.70,231.43 352.20,231.84 352.70,231.94 353.20,231.68 353.70,231.86 354.20,232.16 354.70,231.92 355.20,231.18 355.70,232.01 356.20,231.79 356.70,230.73 357.20,230.70 357.70,229.71 358.20,228.87 358.70,227.79 359.20,225.35 359.70,224.36 360.20,221.66 360.70,218.74 361.20,215.64 361.70,212.37 362.20,209.09 362.70,206.02 363.20,203.38 363.70,201.37 364.20,200.14 364.60,199.81 364.70,199.82 365.20,200.56 365.70,202.34 366.20,204.98 366.70,208.30 367.20,212.01 367.70,215.82 368.20,219.47 368.70,222.79 369.20,225.66 369.70,228.05 370.20,229.97 370.70,231.46 371.20,232.57 371.70,233.36 372.20,233.87 372.70,234.15 373.20,234.26 373.70,234.33 374.20,234.36 374.70,234.38 375.20,234.39 375.70,234.40 376.20,234.40 376.70,234.40 377.20,234.40 377.70,234.40 378.20,234.40 378.70,234.40 379.20,234.40 379.70,234.40 380.20,234.40 380.70,234.40 381.20,234.40 381.70,234.40 382.20,234.40 382.70,234.40 383.20,234.40 383.70,234.40 384.20,234.40 384.70,234.40 385.20,234.40 385.70,234.40 386.20,234.40 386.70,234.40 387.20,234.40 387.70,234.40 388.20,234.40 388.70,234.40 389.20,234.40 389.70,234.40 390.20,234.40 390.70,234.40 391.20,234.40" fill="none" stroke="#d44468" stroke-width="0.95" stroke-opacity="0.9"/>
<polyline points="321.20,234.31 321.70,234.17 322.20,233.89 322.70,233.34 323.20,232.36 323.70,230.78 324.20,228.38 324.70,224.80 325.20,218.72 325.70,206.74 326.20,185.72 326.70,161.21 327.20,149.68 327.70,155.75 328.20,171.03 328.70,188.78 329.20,203.19 329.70,213.00 330.20,218.35 330.70,222.47 331.20,224.93 331.70,226.93 332.20,229.16 332.70,230.34 333.20,230.08 333.70,231.35 334.20,231.73 334.70,230.99 335.20,231.80 335.70,231.43 336.20,231.95 336.70,231.79 337.20,232.44 337.70,231.86 338.20,231.59 338.70,232.05 339.20,231.79 339.70,231.90 340.20,232.69 340.70,231.83 341.20,232.05 341.70,232.44 342.20,232.79 342.70,231.74 343.20,232.25 343.70,231.95 344.20,231.75 344.70,231.96 345.20,231.70 345.70,232.37 346.20,231.86 346.70,232.31 347.20,231.69 347.70,231.75 348.20,232.74 348.70,232.69 349.20,232.58 349.70,231.61 350.20,232.28 350.70,232.02 351.20,232.42 351.70,232.14 352.20,232.28 352.70,232.31 353.20,231.99 353.70,231.96 354.20,231.53 354.70,231.77 355.20,231.40 355.70,231.41 356.20,231.12 356.70,231.35 357.20,231.73 357.70,230.47 358.20,229.81 358.70,229.20 359.20,228.86 359.70,227.85 360.20,226.72 360.70,225.56 361.20,224.46 361.70,223.53 362.20,222.87 362.70,222.56 362.80,222.54 363.20,222.65 363.70,223.19 364.20,224.09 364.70,225.34 365.20,226.78 365.70,228.26 366.20,229.66 366.70,230.91 367.20,231.97 367.70,232.83 368.20,233.49 368.70,233.97 369.20,234.25 369.70,234.35 370.20,234.37 370.70,234.39 371.20,234.40 371.70,234.40 372.20,234.40 372.70,234.40 373.20,234.40 373.70,234.40 374.20,234.40 374.70,234.40 375.20,234.40 375.70,234.40 376.20,234.40 376.70,234.40 377.20,234.40 377.70,234.40 378.20,234.40 378.70,234.40 379.20,234.40 379.70,234.40 380.20,234.40 380.70,234.40 381.20,234.40 381.70,234.40 382.20,234.40 382.70,234.40 383.20,234.40 383.70,234.40 384.20,234.40 384.70,234.40 385.20,234.40 385.70,234.40 386.20,234.40 386.70,234.40 387.20,234.40 387.70,234.40 388.20,234.40 388.70,234.40 389.20,234.40 389.70,234.40 390.20,234.40 390.70,234.40 391.20,234.40" fill="none" stroke="#5a6b94" stroke-width="0.9" stroke-opacity="0.85"/>
<text x="345.60" y="182.20" font-size="8.40" text-anchor="start" fill="#c23d57" font-weight="normal" textLength="39.4" lengthAdjust="spacingAndGlyphs" stroke="#c23d57" stroke-width="0.22" >65.4±0.4%</text>
<text x="345.80" y="192.00" font-size="8.40" text-anchor="start" fill="#3a5380" font-weight="normal" textLength="39.0" lengthAdjust="spacingAndGlyphs" stroke="#3a5380" stroke-width="0.22" >16.0±0.4%</text>
<text x="347.20" y="171.60" font-size="7.80" text-anchor="start" fill="#231f20" font-weight="normal" textLength="33.4" lengthAdjust="spacingAndGlyphs" stroke="#231f20" stroke-width="0.22" >late S/G2</text>
<line x1="425.00" y1="149.80" x2="425.00" y2="235.20" stroke="#231f20" stroke-width="1.20" />
<line x1="424.40" y1="234.50" x2="511.00" y2="234.50" stroke="#231f20" stroke-width="1.20" />
<line x1="422.20" y1="216.85" x2="425.00" y2="216.85" stroke="#231f20" stroke-width="1.00" />
<line x1="422.20" y1="199.20" x2="425.00" y2="199.20" stroke="#231f20" stroke-width="1.00" />
<text x="418.80" y="202.40" font-size="8.40" text-anchor="end" fill="#231f20" font-weight="normal" stroke="#231f20" stroke-width="0.22" >500</text>
<line x1="422.20" y1="181.55" x2="425.00" y2="181.55" stroke="#231f20" stroke-width="1.00" />
<line x1="422.20" y1="163.90" x2="425.00" y2="163.90" stroke="#231f20" stroke-width="1.00" />
<text x="418.80" y="167.10" font-size="8.40" text-anchor="end" fill="#231f20" font-weight="normal" textLength="17.8" lengthAdjust="spacingAndGlyphs" stroke="#231f20" stroke-width="0.22" >1000</text>
<line x1="439.25" y1="234.50" x2="439.25" y2="236.90" stroke="#231f20" stroke-width="1.00" />
<text x="439.25" y="248.10" font-size="8.40" text-anchor="middle" fill="#231f20" font-weight="normal" stroke="#231f20" stroke-width="0.22" >50k</text>
<line x1="467.75" y1="234.50" x2="467.75" y2="236.90" stroke="#231f20" stroke-width="1.00" />
<text x="467.75" y="248.10" font-size="8.40" text-anchor="middle" fill="#231f20" font-weight="normal" stroke="#231f20" stroke-width="0.22" >100k</text>
<line x1="496.25" y1="234.50" x2="496.25" y2="236.90" stroke="#231f20" stroke-width="1.00" />
<text x="496.25" y="248.10" font-size="8.40" text-anchor="middle" fill="#231f20" font-weight="normal" stroke="#231f20" stroke-width="0.22" >150k</text>
<text x="467.60" y="144.50" font-size="8.40" text-anchor="middle" fill="#231f20" font-weight="normal" textLength="89.5" lengthAdjust="spacingAndGlyphs" stroke="#231f20" stroke-width="0.22" >RA3087EH + WT-FANCA</text>
<polygon points="445.30,234.50 445.30,220.95 445.80,213.11 446.30,199.78 446.80,181.30 447.30,163.62 447.80,156.13 448.30,160.02 448.80,170.36 449.30,183.87 449.80,196.62 450.30,206.46 450.30,234.50" fill="#b8c0d0" fill-opacity="0.5"/>
<polyline points="441.80,233.27 442.30,232.65 442.80,231.81 443.30,230.71 443.80,229.28 444.30,227.35 444.80,224.50 445.30,219.95 445.80,212.81 446.30,202.84 446.80,191.47 447.30,182.06 447.80,178.37 448.30,180.27 448.80,185.52 449.30,192.94 449.80,200.96 450.30,207.98 450.80,213.42 451.30,217.28 451.80,219.54 452.30,221.43 452.80,223.57 453.30,225.31 453.80,226.80 454.30,226.91 454.80,227.94 455.30,228.22 455.80,229.24 456.30,229.16 456.80,230.13 457.30,229.72 457.80,230.01 458.30,230.57 458.80,230.53 459.30,230.44 459.80,231.14 460.30,230.74 460.80,230.46 461.30,231.19 461.80,230.54 462.30,230.72 462.80,230.54 463.30,231.21 463.80,231.54 464.30,230.66 464.80,230.67 465.30,231.14 465.80,231.60 466.30,231.47 466.80,230.93 467.30,231.37 467.80,230.53 468.30,231.00 468.80,231.49 469.30,230.91 469.80,231.28 470.30,230.55 470.80,230.57 471.30,231.06 471.80,230.88 472.30,230.80 472.80,230.65 473.30,230.42 473.80,231.60 474.30,231.16 474.80,230.83 475.30,231.18 475.80,230.79 476.30,231.40 476.80,230.36 477.30,230.77 477.80,231.23 478.30,230.48 478.80,230.83 479.30,230.86 479.80,230.32 480.30,230.50 480.80,230.06 481.30,228.74 481.80,228.32 482.30,228.37 482.80,226.75 483.30,225.59 483.80,224.30 484.30,222.96 484.80,221.66 485.30,220.50 485.80,219.59 486.30,219.01 486.70,218.83 486.80,218.82 487.30,219.10 487.80,219.82 488.30,220.92 488.80,222.41 489.30,224.12 489.80,225.91 490.30,227.63 490.80,229.23 491.30,230.63 491.80,231.82 492.30,232.80 492.80,233.56 493.30,234.09 493.80,234.37 494.30,234.44 494.80,234.47 495.30,234.49 495.80,234.49 496.30,234.50 496.80,234.50 497.30,234.50 497.80,234.50 498.30,234.50 498.80,234.50 499.30,234.50 499.80,234.50 500.30,234.50 500.80,234.50 501.30,234.50 501.80,234.50 502.30,234.50 502.80,234.50 503.30,234.50 503.80,234.50 504.30,234.50 504.80,234.50 505.30,234.50 505.80,234.50 506.30,234.50 506.80,234.50 507.30,234.50 507.80,234.50 508.30,234.50 508.80,234.50 509.30,234.50 509.80,234.50" fill="none" stroke="#d44468" stroke-width="0.95" stroke-opacity="0.9"/>
<polyline points="441.80,233.99 442.30,233.58 442.80,232.90 443.30,231.87 443.80,230.38 444.30,228.32 444.80,225.44 445.30,220.95 445.80,213.11 446.30,199.78 446.80,181.30 447.30,163.62 447.80,156.13 448.30,160.02 448.80,170.36 449.30,183.87 449.80,196.62 450.30,206.46 450.80,212.98 451.30,217.17 451.80,220.25 452.30,222.58 452.80,224.74 453.30,226.01 453.80,228.32 454.30,228.68 454.80,228.78 455.30,229.67 455.80,229.73 456.30,231.00 456.80,230.74 457.30,231.16 457.80,230.88 458.30,230.91 458.80,231.68 459.30,231.46 459.80,231.42 460.30,230.65 460.80,230.87 461.30,231.67 461.80,230.88 462.30,231.74 462.80,231.15 463.30,231.80 463.80,231.97 464.30,230.88 464.80,231.74 465.30,231.74 465.80,230.78 466.30,230.93 466.80,231.67 467.30,230.83 467.80,231.37 468.30,231.19 468.80,231.79 469.30,230.85 469.80,231.17 470.30,230.81 470.80,230.90 471.30,231.65 471.80,231.56 472.30,231.79 472.80,231.80 473.30,231.89 473.80,231.57 474.30,231.17 474.80,231.91 475.30,231.03 475.80,231.44 476.30,231.45 476.80,230.77 477.30,231.17 477.80,231.35 478.30,231.10 478.80,230.77 479.30,231.54 479.80,230.31 480.30,231.44 480.80,230.40 481.30,230.12 481.80,230.96 482.30,229.71 482.80,229.90 483.30,229.31 483.80,228.83 484.30,228.32 484.80,227.81 485.30,227.34 485.80,226.95 486.30,226.69 486.70,226.59 486.80,226.58 487.30,226.65 487.80,226.90 488.30,227.33 488.80,228.01 489.30,228.87 489.80,229.80 490.30,230.75 490.80,231.67 491.30,232.51 491.80,233.24 492.30,233.83 492.80,234.25 493.30,234.46 493.80,234.48 494.30,234.49 494.80,234.50 495.30,234.50 495.80,234.50 496.30,234.50 496.80,234.50 497.30,234.50 497.80,234.50 498.30,234.50 498.80,234.50 499.30,234.50 499.80,234.50 500.30,234.50 500.80,234.50 501.30,234.50 501.80,234.50 502.30,234.50 502.80,234.50 503.30,234.50 503.80,234.50 504.30,234.50 504.80,234.50 505.30,234.50 505.80,234.50 506.30,234.50 506.80,234.50 507.30,234.50 507.80,234.50 508.30,234.50 508.80,234.50 509.30,234.50 509.80,234.50" fill="none" stroke="#5a6b94" stroke-width="0.9" stroke-opacity="0.85"/>
<text x="464.80" y="202.80" font-size="8.40" text-anchor="start" fill="#c23d57" font-weight="normal" textLength="37.8" lengthAdjust="spacingAndGlyphs" stroke="#c23d57" stroke-width="0.22" >27.5±0.2%</text>
<text x="465.30" y="212.60" font-size="8.40" text-anchor="start" fill="#3a5380" font-weight="normal" textLength="37.8" lengthAdjust="spacingAndGlyphs" stroke="#3a5380" stroke-width="0.22" >13.8±0.3%</text>
<line x1="305.60" y1="267.70" x2="305.60" y2="353.00" stroke="#231f20" stroke-width="1.20" />
<line x1="305.00" y1="352.30" x2="391.60" y2="352.30" stroke="#231f20" stroke-width="1.20" />
<line x1="302.80" y1="334.65" x2="305.60" y2="334.65" stroke="#231f20" stroke-width="1.00" />
<line x1="302.80" y1="317.00" x2="305.60" y2="317.00" stroke="#231f20" stroke-width="1.00" />
<text x="299.40" y="320.20" font-size="8.40" text-anchor="end" fill="#231f20" font-weight="normal" stroke="#231f20" stroke-width="0.22" >500</text>
<line x1="302.80" y1="299.35" x2="305.60" y2="299.35" stroke="#231f20" stroke-width="1.00" />
<line x1="302.80" y1="281.70" x2="305.60" y2="281.70" stroke="#231f20" stroke-width="1.00" />
<text x="299.40" y="284.90" font-size="8.40" text-anchor="end" fill="#231f20" font-weight="normal" textLength="17.8" lengthAdjust="spacingAndGlyphs" stroke="#231f20" stroke-width="0.22" >1000</text>
<line x1="319.85" y1="352.30" x2="319.85" y2="354.70" stroke="#231f20" stroke-width="1.00" />
<text x="319.85" y="365.90" font-size="8.40" text-anchor="middle" fill="#231f20" font-weight="normal" stroke="#231f20" stroke-width="0.22" >50k</text>
<line x1="348.35" y1="352.30" x2="348.35" y2="354.70" stroke="#231f20" stroke-width="1.00" />
<text x="348.35" y="365.90" font-size="8.40" text-anchor="middle" fill="#231f20" font-weight="normal" stroke="#231f20" stroke-width="0.22" >100k</text>
<line x1="376.85" y1="352.30" x2="376.85" y2="354.70" stroke="#231f20" stroke-width="1.00" />
<text x="376.85" y="365.90" font-size="8.40" text-anchor="middle" fill="#231f20" font-weight="normal" stroke="#231f20" stroke-width="0.22" >150k</text>
<text x="349.20" y="262.00" font-size="8.40" text-anchor="middle" fill="#231f20" font-weight="normal" textLength="40.6" lengthAdjust="spacingAndGlyphs" stroke="#231f20" stroke-width="0.22" >RA2349EH</text>
<polygon points="332.20,352.30 332.20,339.88 332.70,332.87 333.20,321.46 333.70,306.37 334.20,292.43 334.70,286.64 335.20,289.64 335.70,297.69 336.20,308.44 336.70,318.94 337.20,327.36 337.20,352.30" fill="#b8c0d0" fill-opacity="0.5"/>
<polyline points="328.70,351.61 329.20,351.31 329.70,350.93 330.20,350.44 330.70,349.80 331.20,348.93 331.70,347.61 332.20,345.57 332.70,342.54 333.20,338.56 333.70,334.28 334.20,330.88 334.70,329.57 335.20,330.24 335.70,332.11 336.20,334.82 336.70,337.85 337.20,340.47 337.70,342.42 338.20,343.74 338.70,344.91 339.20,344.51 339.70,346.08 340.20,345.97 340.70,347.30 341.20,347.54 341.70,346.96 342.20,348.28 342.70,347.99 343.20,348.45 343.70,348.64 344.20,348.74 344.70,349.25 345.20,348.54 345.70,349.56 346.20,349.44 346.70,349.77 347.20,349.50 347.70,349.36 348.20,348.77 348.70,349.46 349.20,349.83 349.70,349.67 350.20,348.76 350.70,349.96 351.20,349.27 351.70,349.59 352.20,349.24 352.70,349.67 353.20,349.23 353.70,349.49 354.20,349.30 354.70,348.99 355.20,349.41 355.70,349.97 356.20,350.07 356.70,348.96 357.20,349.54 357.70,349.91 358.20,348.96 358.70,349.42 359.20,349.23 359.70,349.03 360.20,349.78 360.70,349.68 361.20,349.01 361.70,349.95 362.20,349.14 362.70,349.97 363.20,349.20 363.70,349.17 364.20,348.84 364.70,348.95 365.20,349.35 365.70,349.70 366.20,349.68 366.70,349.07 367.20,348.89 367.70,349.11 368.20,347.56 368.70,347.40 369.20,346.32 369.70,345.99 370.20,344.99 370.70,344.36 371.20,343.12 371.70,342.49 372.20,341.58 372.70,340.82 373.20,339.18 373.70,338.22 374.20,336.48 374.70,334.45 375.20,332.26 375.70,330.08 376.20,328.10 376.70,326.53 377.20,325.50 377.70,325.11 378.20,325.49 378.70,326.67 379.20,328.52 379.70,330.92 380.20,333.71 380.70,336.65 381.20,339.53 381.70,342.21 382.20,344.57 382.70,346.59 383.20,348.24 383.70,349.56 384.20,350.57 384.70,351.31 385.20,351.81 385.70,352.08 386.20,352.18 386.70,352.24 387.20,352.27 387.70,352.28 388.20,352.29 388.70,352.30 389.20,352.30 389.70,352.30 390.20,352.30" fill="none" stroke="#d44468" stroke-width="0.95" stroke-opacity="0.9"/>
<polyline points="328.70,351.72 329.20,351.30 329.70,350.64 330.20,349.68 330.70,348.33 331.20,346.51 331.70,343.94 332.20,339.88 332.70,332.87 333.20,321.46 333.70,306.37 334.20,292.43 334.70,286.64 335.20,289.64 335.70,297.69 336.20,308.44 336.70,318.94 337.20,327.36 337.70,333.31 338.20,337.46 338.70,340.43 339.20,342.01 339.70,344.44 340.20,345.17 340.70,346.45 341.20,347.68 341.70,347.76 342.20,348.85 342.70,348.72 343.20,349.45 343.70,349.62 344.20,349.34 344.70,348.93 345.20,349.89 345.70,349.82 346.20,349.35 346.70,348.98 347.20,349.48 347.70,349.74 348.20,349.02 348.70,350.23 349.20,349.21 349.70,349.96 350.20,350.16 350.70,350.21 351.20,349.98 351.70,349.35 352.20,350.17 352.70,349.67 353.20,349.61 353.70,349.96 354.20,349.75 354.70,350.37 355.20,350.38 355.70,350.20 356.20,349.60 356.70,349.92 357.20,350.07 357.70,349.72 358.20,349.89 358.70,350.09 359.20,349.45 359.70,349.57 360.20,350.14 360.70,349.72 361.20,349.77 361.70,349.32 362.20,349.49 362.70,350.04 363.20,349.15 363.70,350.23 364.20,349.84 364.70,349.39 365.20,350.14 365.70,349.68 366.20,350.21 366.70,349.35 367.20,349.14 367.70,349.24 368.20,348.65 368.70,349.10 369.20,348.30 369.70,348.09 370.20,347.78 370.70,347.67 371.20,346.99 371.70,346.77 372.20,347.33 372.70,347.07 373.20,347.76 373.70,346.78 374.20,346.74 374.70,346.32 375.20,345.82 375.70,345.28 376.20,344.76 376.70,344.33 377.20,344.03 377.70,343.90 378.20,343.96 378.70,344.24 379.20,344.70 379.70,345.38 380.20,346.21 380.70,347.14 381.20,348.07 381.70,348.97 382.20,349.79 382.70,350.52 383.20,351.14 383.70,351.64 384.20,352.00 384.70,352.22 385.20,352.27 385.70,352.29 386.20,352.29 386.70,352.30 387.20,352.30 387.70,352.30 388.20,352.30 388.70,352.30 389.20,352.30 389.70,352.30 390.20,352.30" fill="none" stroke="#5a6b94" stroke-width="0.9" stroke-opacity="0.85"/>
<text x="352.30" y="308.90" font-size="8.40" text-anchor="start" fill="#c23d57" font-weight="normal" textLength="39.8" lengthAdjust="spacingAndGlyphs" stroke="#c23d57" stroke-width="0.22" >54.4±0.3%</text>
<text x="353.00" y="318.60" font-size="8.40" text-anchor="start" fill="#3a5380" font-weight="normal" textLength="39.0" lengthAdjust="spacingAndGlyphs" stroke="#3a5380" stroke-width="0.22" >13.4±0.4%</text>
<line x1="424.80" y1="268.00" x2="424.80" y2="353.50" stroke="#231f20" stroke-width="1.20" />
<line x1="424.20" y1="352.80" x2="510.80" y2="352.80" stroke="#231f20" stroke-width="1.20" />
<line x1="422.00" y1="335.15" x2="424.80" y2="335.15" stroke="#231f20" stroke-width="1.00" />
<line x1="422.00" y1="317.50" x2="424.80" y2="317.50" stroke="#231f20" stroke-width="1.00" />
<text x="418.60" y="320.70" font-size="8.40" text-anchor="end" fill="#231f20" font-weight="normal" stroke="#231f20" stroke-width="0.22" >500</text>
<line x1="422.00" y1="299.85" x2="424.80" y2="299.85" stroke="#231f20" stroke-width="1.00" />
<line x1="422.00" y1="282.20" x2="424.80" y2="282.20" stroke="#231f20" stroke-width="1.00" />
<text x="418.60" y="285.40" font-size="8.40" text-anchor="end" fill="#231f20" font-weight="normal" textLength="17.8" lengthAdjust="spacingAndGlyphs" stroke="#231f20" stroke-width="0.22" >1000</text>
<line x1="439.05" y1="352.80" x2="439.05" y2="355.20" stroke="#231f20" stroke-width="1.00" />
<text x="439.05" y="366.40" font-size="8.40" text-anchor="middle" fill="#231f20" font-weight="normal" stroke="#231f20" stroke-width="0.22" >50k</text>
<line x1="467.55" y1="352.80" x2="467.55" y2="355.20" stroke="#231f20" stroke-width="1.00" />
<text x="467.55" y="366.40" font-size="8.40" text-anchor="middle" fill="#231f20" font-weight="normal" stroke="#231f20" stroke-width="0.22" >100k</text>
<line x1="496.05" y1="352.80" x2="496.05" y2="355.20" stroke="#231f20" stroke-width="1.00" />
<text x="496.05" y="366.40" font-size="8.40" text-anchor="middle" fill="#231f20" font-weight="normal" stroke="#231f20" stroke-width="0.22" >150k</text>
<text x="468.00" y="262.60" font-size="8.40" text-anchor="middle" fill="#231f20" font-weight="normal" textLength="42.0" lengthAdjust="spacingAndGlyphs" stroke="#231f20" stroke-width="0.22" >RA2565EH</text>
<polygon points="443.90,352.80 443.90,340.60 444.40,333.37 444.90,320.55 445.40,301.85 445.90,283.20 446.40,275.14 446.90,279.34 447.40,290.38 447.90,304.49 448.40,317.57 448.90,327.51 448.90,352.80" fill="#b8c0d0" fill-opacity="0.5"/>
<polyline points="440.40,351.95 440.90,351.49 441.40,350.84 441.90,349.98 442.40,348.84 442.90,347.32 443.40,345.09 443.90,341.53 444.40,335.78 444.90,327.45 445.40,317.65 445.90,309.36 446.40,306.06 446.90,307.76 447.40,312.42 447.90,318.94 448.40,325.84 448.90,331.82 449.40,336.41 449.90,339.54 450.40,341.94 450.90,343.40 451.40,345.30 451.90,345.66 452.40,346.56 452.90,347.52 453.40,348.75 453.90,348.79 454.40,349.42 454.90,349.83 455.40,349.18 455.90,349.30 456.40,350.65 456.90,349.72 457.40,350.12 457.90,350.46 458.40,350.63 458.90,350.17 459.40,350.48 459.90,350.21 460.40,350.26 460.90,350.95 461.40,350.16 461.90,349.90 462.40,349.93 462.90,350.40 463.40,351.13 463.90,351.19 464.40,351.03 464.90,350.01 465.40,350.83 465.90,350.75 466.40,350.07 466.90,350.82 467.40,350.52 467.90,350.66 468.40,351.13 468.90,350.46 469.40,350.13 469.90,350.99 470.40,350.90 470.90,350.65 471.40,351.11 471.90,350.52 472.40,350.09 472.90,350.28 473.40,350.42 473.90,349.99 474.40,350.86 474.90,350.30 475.40,350.50 475.90,350.14 476.40,350.67 476.90,349.69 477.40,350.34 477.90,349.94 478.40,348.69 478.90,347.90 479.40,347.74 479.90,346.72 480.40,345.64 480.90,343.80 481.40,342.09 481.90,340.27 482.40,338.45 482.90,336.77 483.40,335.35 483.90,334.33 484.40,333.80 484.60,333.74 484.90,333.83 485.40,334.51 485.90,335.75 486.40,337.45 486.90,339.50 487.40,341.68 487.90,343.84 488.40,345.83 488.90,347.57 489.40,349.04 489.90,350.23 490.40,351.15 490.90,351.84 491.40,352.32 491.90,352.60 492.40,352.71 492.90,352.75 493.40,352.78 493.90,352.79 494.40,352.80 494.90,352.80 495.40,352.80 495.90,352.80 496.40,352.80 496.90,352.80 497.40,352.80 497.90,352.80 498.40,352.80 498.90,352.80 499.40,352.80 499.90,352.80 500.40,352.80 500.90,352.80 501.40,352.80 501.90,352.80 502.40,352.80 502.90,352.80 503.40,352.80 503.90,352.80 504.40,352.80 504.90,352.80 505.40,352.80 505.90,352.80 506.40,352.80 506.90,352.80 507.40,352.80 507.90,352.80 508.40,352.80 508.90,352.80 509.40,352.80" fill="none" stroke="#d44468" stroke-width="0.95" stroke-opacity="0.9"/>
<polyline points="440.40,352.45 440.90,352.12 441.40,351.56 441.90,350.66 442.40,349.31 442.90,347.40 443.40,344.71 443.90,340.60 444.40,333.37 444.90,320.55 445.40,301.85 445.90,283.20 446.40,275.14 446.90,279.34 447.40,290.38 447.90,304.49 448.40,317.57 448.90,327.51 449.40,334.23 449.90,338.67 450.40,342.08 450.90,343.46 451.40,346.30 451.90,347.03 452.40,347.58 452.90,349.42 453.40,349.40 453.90,349.74 454.40,350.77 454.90,350.53 455.40,350.26 455.90,350.67 456.40,350.38 456.90,351.15 457.40,351.08 457.90,351.27 458.40,350.79 458.90,350.28 459.40,350.72 459.90,350.50 460.40,351.01 460.90,350.56 461.40,351.39 461.90,351.16 462.40,350.69 462.90,350.63 463.40,351.02 463.90,351.46 464.40,351.23 464.90,351.31 465.40,351.22 465.90,350.56 466.40,351.33 466.90,350.46 467.40,350.47 467.90,351.51 468.40,351.10 468.90,350.95 469.40,351.54 469.90,351.02 470.40,350.41 470.90,351.41 471.40,350.78 471.90,351.37 472.40,350.78 472.90,350.37 473.40,351.23 473.90,351.46 474.40,351.35 474.90,350.75 475.40,351.40 475.90,351.29 476.40,350.74 476.90,350.16 477.40,350.75 477.90,350.70 478.40,350.29 478.90,350.84 479.40,350.00 479.90,350.22 480.40,349.28 480.90,348.34 481.40,348.34 481.90,347.68 482.40,346.99 482.90,346.32 483.40,345.74 483.90,345.30 484.40,345.07 484.60,345.03 484.90,345.06 485.40,345.32 485.90,345.80 486.40,346.51 486.90,347.39 487.40,348.33 487.90,349.27 488.40,350.13 488.90,350.89 489.40,351.53 489.90,352.05 490.40,352.43 490.90,352.67 491.40,352.76 491.90,352.78 492.40,352.79 492.90,352.80 493.40,352.80 493.90,352.80 494.40,352.80 494.90,352.80 495.40,352.80 495.90,352.80 496.40,352.80 496.90,352.80 497.40,352.80 497.90,352.80 498.40,352.80 498.90,352.80 499.40,352.80 499.90,352.80 500.40,352.80 500.90,352.80 501.40,352.80 501.90,352.80 502.40,352.80 502.90,352.80 503.40,352.80 503.90,352.80 504.40,352.80 504.90,352.80 505.40,352.80 505.90,352.80 506.40,352.80 506.90,352.80 507.40,352.80 507.90,352.80 508.40,352.80 508.90,352.80 509.40,352.80" fill="none" stroke="#5a6b94" stroke-width="0.9" stroke-opacity="0.85"/>
<text x="461.00" y="317.80" font-size="8.40" text-anchor="start" fill="#c23d57" font-weight="normal" textLength="39.6" lengthAdjust="spacingAndGlyphs" stroke="#c23d57" stroke-width="0.22" >36.6±1.7%</text>
<text x="461.20" y="327.00" font-size="8.40" text-anchor="start" fill="#3a5380" font-weight="normal" textLength="39.2" lengthAdjust="spacingAndGlyphs" stroke="#3a5380" stroke-width="0.22" >10.7±0.2%</text>
<text transform="translate(276.2,252.0) rotate(-90)" font-size="9.4" text-anchor="middle" fill="#231f20" stroke="#231f20" stroke-width="0.25" textLength="28.8" lengthAdjust="spacingAndGlyphs">Cell count</text>
<text x="408.6" y="378.5" font-size="9.0" text-anchor="middle" fill="#231f20" stroke="#231f20" stroke-width="0.35" textLength="37.2" lengthAdjust="spacingAndGlyphs">PI - intensity</text>
<text transform="translate(355.60,429.40) rotate(-45)" font-size="8" fill="#231f20" stroke="#231f20" stroke-width="0.3" textLength="8.6" lengthAdjust="spacingAndGlyphs">BJ</text>
<text transform="translate(386.80,429.40) rotate(-45)" font-size="8" fill="#231f20" stroke="#231f20" stroke-width="0.3" textLength="40.5" lengthAdjust="spacingAndGlyphs">RA2349EH</text>
<text transform="translate(420.00,429.40) rotate(-45)" font-size="8" fill="#231f20" stroke="#231f20" stroke-width="0.3" textLength="40.5" lengthAdjust="spacingAndGlyphs">RA2565EH</text>
<text transform="translate(453.60,429.40) rotate(-45)" font-size="8" fill="#231f20" stroke="#231f20" stroke-width="0.3" textLength="40.5" lengthAdjust="spacingAndGlyphs">RA3087EH</text>
<rect x="337.60" y="435.00" width="129.20" height="19.80" fill="#dedede" />
<rect x="338.90" y="436.30" width="126.60" height="2.50" fill="#e8e8e8" filter="url(#b0_9)"/>
<rect x="338.90" y="451.00" width="126.60" height="2.50" fill="#e9e9e9" filter="url(#b0_9)"/>
<rect x="369.30" y="436.50" width="4.40" height="17.00" fill="#f3f3f3" filter="url(#b1_4)"/>
<rect x="398.80" y="436.50" width="4.40" height="17.00" fill="#f3f3f3" filter="url(#b1_4)"/>
<rect x="433.00" y="436.50" width="4.40" height="17.00" fill="#f3f3f3" filter="url(#b1_4)"/>
<rect x="341" y="441.8" width="26.5" height="9.6" rx="3" fill="#444" opacity="0.6" filter="url(#b1_2)"/>
<path d="M341.6,442.8 Q343.5,444.6 348,444.4 L362,444.2 Q367.4,444.2 367.4,447.6 Q367.4,450.6 363.5,450.6 L349,450.6 Q343.8,450.6 342.2,447.5 Z" fill="#161616" filter="url(#b0_9)"/>
<rect x="377.80" y="443.6" width="21.70" height="3.8" rx="1.5" fill="#909090" opacity="0.55" filter="url(#b1_3)"/>
<rect x="377.80" y="439.2" width="21.70" height="2.6" rx="1" fill="#a0a0a0" opacity="0.28" filter="url(#b1_3)"/>
<rect x="410.00" y="443.6" width="23.50" height="3.8" rx="1.5" fill="#909090" opacity="0.35" filter="url(#b1_3)"/>
<rect x="410.00" y="439.2" width="23.50" height="2.6" rx="1" fill="#a0a0a0" opacity="0.17" filter="url(#b1_3)"/>
<rect x="437.00" y="443.6" width="26.50" height="3.8" rx="1.5" fill="#909090" opacity="0.30" filter="url(#b1_3)"/>
<rect x="437.00" y="439.2" width="26.50" height="2.6" rx="1" fill="#a0a0a0" opacity="0.15" filter="url(#b1_3)"/>
<circle cx="375.0" cy="444.4" r="0.85" fill="#111"/>
<circle cx="409.6" cy="444.0" r="0.85" fill="#111"/>
<rect x="338.25" y="435.55" width="127.90" height="18.7" fill="none" stroke="#262626" stroke-width="1.3"/>
<rect x="337.60" y="461.00" width="129.20" height="20.20" fill="#e4e4e4" />
<rect x="338.90" y="462.30" width="126.60" height="2.50" fill="#f0f0f0" filter="url(#b0_9)"/>
<rect x="338.90" y="477.00" width="126.60" height="2.50" fill="#eeeeee" filter="url(#b0_9)"/>
<path d="M340.80,464.70 Q358.60,469.30 376.40,464.70 Q377.60,469.75 374.40,474.80 Q358.60,478.80 342.80,474.80 Q339.60,469.75 340.80,464.70 Z" fill="#777" filter="url(#b1_2)" opacity="0.6"/>
<path d="M341.60,465.50 Q358.60,470.50 375.60,465.50 Q376.80,469.75 373.60,474.00 Q358.60,477.60 343.60,474.00 Q340.40,469.75 341.60,465.50 Z" fill="#1a1a1a" filter="url(#b0_9)" />
<path d="M374.60,464.50 Q390.00,469.90 405.40,464.50 Q406.60,469.65 403.40,474.80 Q390.00,478.40 376.60,474.80 Q373.40,469.65 374.60,464.50 Z" fill="#777" filter="url(#b1_2)" opacity="0.6"/>
<path d="M375.40,465.30 Q390.00,471.10 404.60,465.30 Q405.80,469.65 402.60,474.00 Q390.00,477.20 377.40,474.00 Q374.20,469.65 375.40,465.30 Z" fill="#1a1a1a" filter="url(#b0_9)" />
<path d="M403.80,464.70 Q419.10,469.30 434.40,464.70 Q435.60,469.65 432.40,474.60 Q419.10,478.20 405.80,474.60 Q402.60,469.65 403.80,464.70 Z" fill="#777" filter="url(#b1_2)" opacity="0.6"/>
<path d="M404.60,465.50 Q419.10,470.50 433.60,465.50 Q434.80,469.65 431.60,473.80 Q419.10,477.00 406.60,473.80 Q403.40,469.65 404.60,465.50 Z" fill="#1a1a1a" filter="url(#b0_9)" />
<path d="M434.90,464.80 Q449.05,467.20 463.20,464.80 Q464.40,468.60 461.20,472.40 Q449.05,476.40 436.90,472.40 Q433.70,468.60 434.90,464.80 Z" fill="#777" filter="url(#b1_2)" opacity="0.6"/>
<path d="M435.70,465.60 Q449.05,468.40 462.40,465.60 Q463.60,468.60 460.40,471.60 Q449.05,475.20 437.70,471.60 Q434.50,468.60 435.70,465.60 Z" fill="#1a1a1a" filter="url(#b0_9)" />
<rect x="338.25" y="461.65" width="127.90" height="18.9" fill="none" stroke="#262626" stroke-width="1.3"/>
<line x1="467.00" y1="444.50" x2="470.00" y2="444.50" stroke="#231f20" stroke-width="1.00" />
<line x1="467.00" y1="470.50" x2="470.00" y2="470.50" stroke="#231f20" stroke-width="1.00" />
<text x="473.80" y="448.10" font-size="8.40" text-anchor="start" fill="#231f20" font-weight="normal" textLength="13.4" lengthAdjust="spacingAndGlyphs" stroke="#231f20" stroke-width="0.22" >180</text>
<text x="473.00" y="474.10" font-size="8.40" text-anchor="start" fill="#231f20" font-weight="normal" textLength="9.0" lengthAdjust="spacingAndGlyphs" stroke="#231f20" stroke-width="0.22" >55</text>
<text x="335.20" y="447.70" font-size="8.40" text-anchor="end" fill="#231f20" font-weight="normal" textLength="26.6" lengthAdjust="spacingAndGlyphs" stroke="#231f20" stroke-width="0.22" >FANCA</text>
<text x="335.20" y="473.80" font-size="8.40" text-anchor="end" fill="#231f20" font-weight="normal" textLength="24.2" lengthAdjust="spacingAndGlyphs" stroke="#231f20" stroke-width="0.22" >Tubulin</text>
</svg>
</body></html>
